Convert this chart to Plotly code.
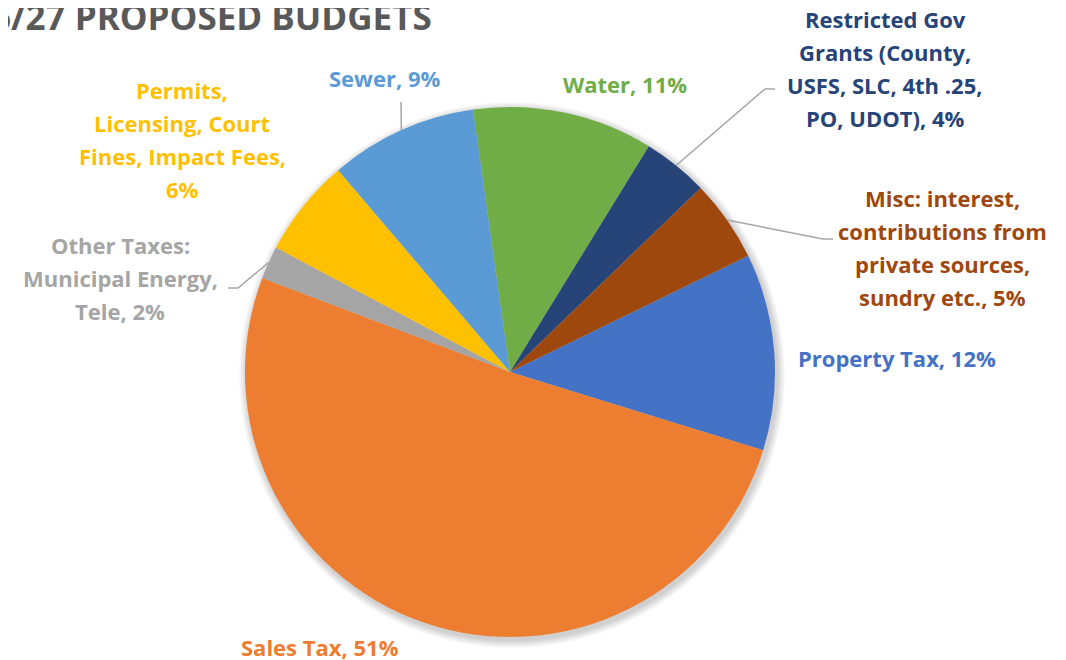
import math
import plotly.graph_objects as go

# ---- data ----
categories = [
    "Property Tax",
    "Sales Tax",
    "Other Taxes: Municipal Energy, Tele",
    "Permits, Licensing, Court Fines, Impact Fees",
    "Sewer",
    "Water",
    "Restricted Gov Grants (County, USFS, SLC, 4th .25, PO, UDOT)",
    "Misc: interest, contributions from private sources, sundry etc.",
]
shares = [12, 51, 2, 6, 9, 11, 4, 5]
colors = ["#4472C4", "#ED7D31", "#A5A5A5", "#FFC000",
          "#5B9BD5", "#70AD47", "#264478", "#9E480E"]
label_lines = [
    ["Property Tax, {p}%"],
    ["Sales Tax, {p}%"],
    ["Other Taxes:", "Municipal Energy,", "Tele, {p}%"],
    ["Permits,", "Licensing, Court", "Fines, Impact Fees,", "{p}%"],
    ["Sewer, {p}%"],
    ["Water, {p}%"],
    ["Restricted Gov", "Grants (County,", "USFS, SLC, 4th .25,", "PO, UDOT), {p}%"],
    ["Misc: interest,", "contributions from", "private sources,", "sundry etc., {p}%"],
]
title_text = "FY26/27 PROPOSED BUDGETS"

# ---- layout constants (pixels, in window coordinates) ----
OFF = 8                      # page body margin
W, H = 1066 - OFF, 660 - OFF
CX, CY, R = 510, 372, 265
ROT = 64
LINE_H = 33
FONT = "Open Sans"
FS = 22
# label block: (center x, first line center y)
label_pos = [(897, 358), (320, 647), (120, 245), (182, 90),
             (385, 78), (625, 84), (885, 19), (942, 198)]
# leader lines: (elbow x, elbow y, end x) or None
leaders = [None, None, (238, 288, 228), None,
           (401, 102, 401), None, (765, 89, 775), (823, 239, 833)]


def px(x):
    return (x - OFF) / W


def py(y):
    return 1 - (y - OFF) / H


fig = go.Figure()
fig.add_trace(go.Pie(
    labels=categories, values=shares, sort=False, direction="clockwise",
    rotation=ROT, textinfo="none", hoverinfo="label+percent",
    marker=dict(colors=colors, line=dict(width=0)),
    domain=dict(x=[px(CX - R), px(CX + R)], y=[py(CY + R), py(CY - R)]),
    showlegend=False,
))

annotations = []
shapes = []

# soft drop shadow under the pie
for k in range(8, 0, -1):
    rr = R + k
    shapes.append(dict(type="circle", xref="paper", yref="paper", layer="below",
                       x0=px(CX + 2 - rr), x1=px(CX + 2 + rr),
                       y0=py(CY + 3 + rr), y1=py(CY + 3 - rr),
                       fillcolor="rgba(0,0,0,0.025)", line=dict(width=0)))

total = sum(shares)
cum = 0
for i, (lines, share, col) in enumerate(zip(label_lines, shares, colors)):
    mid = ROT + 360 * (cum + share / 2) / total
    cum += share
    lx, ly = label_pos[i]
    for k, ln in enumerate(lines):
        annotations.append(dict(
            x=px(lx), y=py(ly + k * LINE_H), xref="paper", yref="paper",
            text="<b>" + ln.format(p=share) + "</b>", showarrow=False,
            xanchor="center", yanchor="middle",
            font=dict(family=FONT, size=FS, color=col)))
    if leaders[i] is not None:
        ex, ey, endx = leaders[i]
        a = math.radians(mid)
        sx = CX + R * math.sin(a)
        sy = CY - R * math.cos(a)
        shapes.append(dict(type="path", xref="paper", yref="paper",
                           path=f"M {px(sx)} {py(sy)} L {px(ex)} {py(ey)} L {px(endx)} {py(ey)}",
                           line=dict(color="#A6A6A6", width=1.5)))

annotations.append(dict(
    x=px(434), y=py(16), xref="paper", yref="paper",
    text="<b>" + title_text + "</b>", showarrow=False,
    xanchor="right", yanchor="middle",
    font=dict(family=FONT, size=35, color="#595959")))

fig.update_layout(
    width=W, height=H, margin=dict(l=0, r=0, t=0, b=0),
    paper_bgcolor="white", plot_bgcolor="white",
    annotations=annotations, shapes=shapes,
)

fig.write_html("out.html")
